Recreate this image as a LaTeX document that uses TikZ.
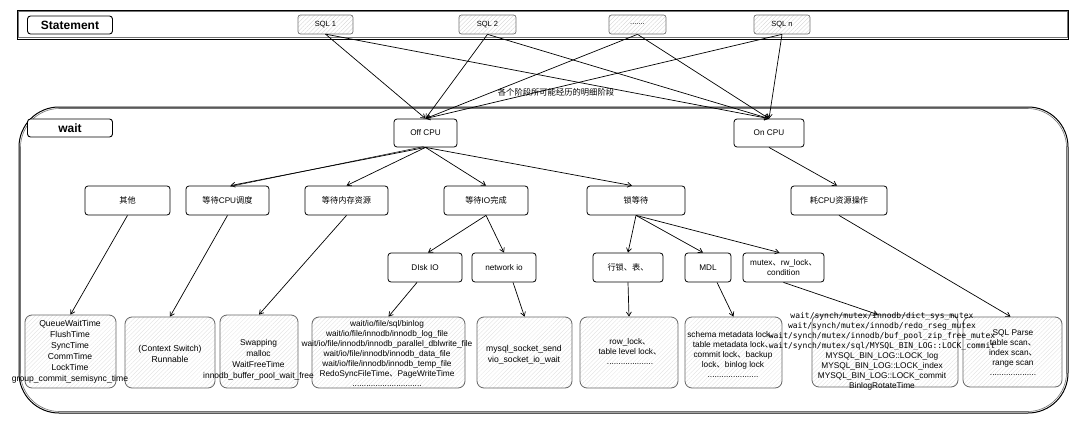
\documentclass[tikz,border=0pt]{standalone}
\usepackage{fontspec}
\setmainfont{Liberation Sans}
\newfontfamily\cjk{Noto Sans CJK SC}
\newfontfamily\monoB{DejaVu Sans Mono}
\newcommand\zhc[1]{{\cjk #1}}
\usetikzlibrary{arrows.meta,patterns.meta}
\begin{document}
\begin{tikzpicture}[x=1pt,y=-1pt,
  lbl/.style={font=\fontsize{8.3}{10}\selectfont, align=center, inner sep=0pt},
  box/.style={draw=black, line width=0.8pt, rounded corners=3pt, fill=white,
    inner sep=0pt, font=\fontsize{8.2}{10}\selectfont, align=center},
  title/.style={draw=black, line width=0.9pt, rounded corners=3pt, fill=white,
    inner sep=0pt, minimum width=85pt, minimum height=18pt, font=\fontsize{12}{14}\selectfont\bfseries},
  sqlbox/.style={draw=black!55, line width=0.7pt, rounded corners=2.5pt,
    pattern={Lines[angle=45,distance=3pt,line width=0.3pt]}, pattern color=black!18,
    inner sep=0pt, minimum height=19pt, font=\fontsize{7.5}{9}\selectfont},
  bot/.style={draw=black!60, line width=0.8pt, rounded corners=7pt,
    pattern={Lines[angle=45,distance=3pt,line width=0.3pt]}, pattern color=black!12,
    inner sep=0pt, minimum height=71pt},
  arr/.style={-{Straight Barb[length=4pt,width=5pt]}, line width=0.7pt},
  frame/.style={line width=1pt, draw=black},
  frame2/.style={line width=0.6pt, draw=black!55}
]
\useasboundingbox[fill=white] (0,0) rectangle (1080,423);

% statement band
\draw[frame] (17,10) rectangle (1068,39);
\draw[frame2] (18,11.5) rectangle (1067,37.5);
% wait frame
\draw[frame, rounded corners=40pt] (19,107) rectangle (1068,413);
\draw[frame2, rounded corners=39pt] (20.5,108.5) rectangle (1066.5,411.5);

\node[title] (stmt) at (70,25) {Statement};
\node[sqlbox, minimum width=55pt] (sql1) at (325.5,24.5) {SQL 1};
\node[sqlbox, minimum width=57pt] (sql2) at (487.5,24.5) {SQL 2};
\node[sqlbox, minimum width=57pt] (sqld) at (637.5,24.5) {.......};
\node[sqlbox, minimum width=56pt] (sqln) at (782,24.5) {SQL n};

\node[title] (wait) at (70,128) {wait};
\node[box, minimum width=63pt, minimum height=28pt] (off) at (425.5,133) {Off CPU};
\node[box, minimum width=70pt, minimum height=28pt] (on) at (769,133) {On CPU};

\node[box, minimum width=85pt, minimum height=29pt] (other) at (127.5,200.5) {\zhc{其他}};
\node[box, minimum width=83pt, minimum height=29pt] (cpu) at (227.5,200.5) {\zhc{等待}CPU\zhc{调度}};
\node[box, minimum width=83pt, minimum height=29pt] (mem) at (346.5,200.5) {\zhc{等待内存资源}};
\node[box, minimum width=84pt, minimum height=29pt] (io) at (486,200.5) {\zhc{等待}IO\zhc{完成}};
\node[box, minimum width=98pt, minimum height=29pt] (lock) at (636,200.5) {\zhc{锁等待}};
\node[box, minimum width=96pt, minimum height=29pt] (cpuop) at (839,200.5) {\zhc{耗}CPU\zhc{资源操作}};

\node[box, minimum width=74pt, minimum height=29pt] (disk) at (425,267.5) {DIsk IO};
\node[box, minimum width=64pt, minimum height=29pt] (net) at (504,267.5) {network io};
\node[box, minimum width=70pt, minimum height=29pt] (row) at (628,267.5) {\zhc{行锁、表、}};
\node[box, minimum width=46pt, minimum height=29pt] (mdl) at (708,267.5) {MDL};
\node[box, minimum width=81pt, minimum height=29pt] (mutex) at (783.5,267.5) {mutex\zhc{、}rw\_lock\zhc{、}\\condition};

% bottom boxes
\node[bot, minimum width=91pt, minimum height=73pt] (b1) at (70.5,351.5) {};
\node[bot, minimum width=90pt] (b2) at (170,352.5) {};
\node[bot, minimum width=78pt, minimum height=73pt] (b3) at (259,351.5) {};
\node[bot, minimum width=153pt] (b4) at (388.5,352.5) {};
\node[bot, minimum width=95pt] (b5) at (524.5,352.5) {};
\node[bot, minimum width=98pt] (b6) at (629,352.5) {};
\node[bot, minimum width=97pt] (b7) at (733.5,352.5) {};
\node[bot, minimum width=146pt, minimum height=72pt] (b8) at (885,351) {};
\node[bot, minimum width=99pt, minimum height=70pt] (b9) at (1012.5,352) {};

\node[lbl, font=\fontsize{8.6}{11}\selectfont] (b1t) at (70,351.5) {QueueWaitTime\\FlushTime\\SyncTime\\CommTime\\LockTime\\group\_commit\_semisync\_time};
\node[lbl, font=\fontsize{8.6}{11}\selectfont] (b2t) at (170,353.5) {(Context Switch)\\Runnable};
\node[lbl, font=\fontsize{8.4}{11}\selectfont] (b3t) at (258.5,359.5) {Swapping\\malloc\\WaitFreeTime\\innodb\_buffer\_pool\_wait\_free};
\node[lbl] (b4t) at (387,353) {wait/io/file/sql/binlog\\wait/io/file/innodb/innodb\_log\_file\\wait/io/file/innodb/innodb\_parallel\_dblwrite\_file\\wait/io/file/innodb/innodb\_data\_file\\wait/io/file/innodb/innodb\_temp\_file\\RedoSyncFileTime\zhc{、}PageWriteTime\\..............................};
\node[lbl, font=\fontsize{8.6}{11}\selectfont] (b5t) at (524,354.5) {mysql\_socket\_send\\vio\_socket\_io\_wait};
\node[lbl] (b6t) at (630,351.5) {row\_lock\zhc{、}\\table level lock\zhc{、}\\....................};
\node[lbl] (b7t) at (733,354) {schema metadata lock\zhc{、}\\table metadata lock\zhc{、}\\commit lock\zhc{、}backup\\lock\zhc{、}binlog lock\\......................};
\node[lbl] (b8t) at (882,351.5) {{\monoB\fontsize{8}{10}\selectfont wait/synch/mutex/innodb/dict\_sys\_mutex}\\{\monoB\fontsize{8}{10}\selectfont wait/synch/mutex/innodb/redo\_rseg\_mutex}\\{\monoB\fontsize{8}{10}\selectfont wait/synch/mutex/innodb/buf\_pool\_zip\_free\_mutex}\\{\monoB\fontsize{8}{10}\selectfont wait/synch/mutex/sql/MYSQL\_BIN\_LOG::LOCK\_commit}\\MYSQL\_BIN\_LOG::LOCK\_log\\MYSQL\_BIN\_LOG::LOCK\_index\\MYSQL\_BIN\_LOG::LOCK\_commit\\BinlogRotateTime};
\node[lbl] (b9t) at (1013,353) {SQL Parse\\table scan\zhc{、}\\index scan\zhc{、}\\range scan\\....................};

% SQL -> Off/On CPU
\foreach \s in {sql1,sql2,sqld,sqln}{
  \draw[arr] (\s.south) -- (off.north);
  \draw[arr] (\s.south) -- (on.north);
}
\node[lbl, font=\fontsize{8.3}{10}\cjk] (note) at (556,92) {各个阶段所可能经历的明细阶段};

% Off CPU children
\draw[arr] (off.south) -- ([xshift=3]cpu.north);
\draw[line width=0.5pt] ([xshift=-2,yshift=0.8]off.south) -- ([xshift=3,yshift=-0.8]cpu.north);
\draw[arr] (off.south) -- (mem.north);
\draw[arr] (off.south) -- (io.north);
\draw[arr] (off.south) -- ([xshift=-4]lock.north);
\draw[arr] (on.south) -- ([xshift=-2]cpuop.north);

\draw[arr] (io.south) -- ([xshift=3]disk.north);
\draw[arr] (io.south) -- (net.north);
\draw[arr] (lock.south) -- (row.north);
\draw[arr] (lock.south) -- ([xshift=-5]mdl.north);
\draw[arr] (lock.south) -- ([xshift=-4]mutex.north);

% to bottom boxes
\draw[arr] (other.south) -- (b1.north);
\draw[arr] (cpu.south) -- (b2.north);
\draw[arr] (mem.south) -- (b3.north);
\draw[arr] ([xshift=-8]disk.south) -- (b4.north);
\draw[arr] ([xshift=9]net.south) -- (b5.north);
\draw[arr] (row.south) -- (b6.north);
\draw[arr] ([xshift=9]mdl.south) -- (b7.north);
\draw[arr] (mutex.south) -- ([xshift=-7]b8.north);
\draw[arr] (cpuop.south) -- ([xshift=-2]b9.north);
\end{tikzpicture}
\end{document}
